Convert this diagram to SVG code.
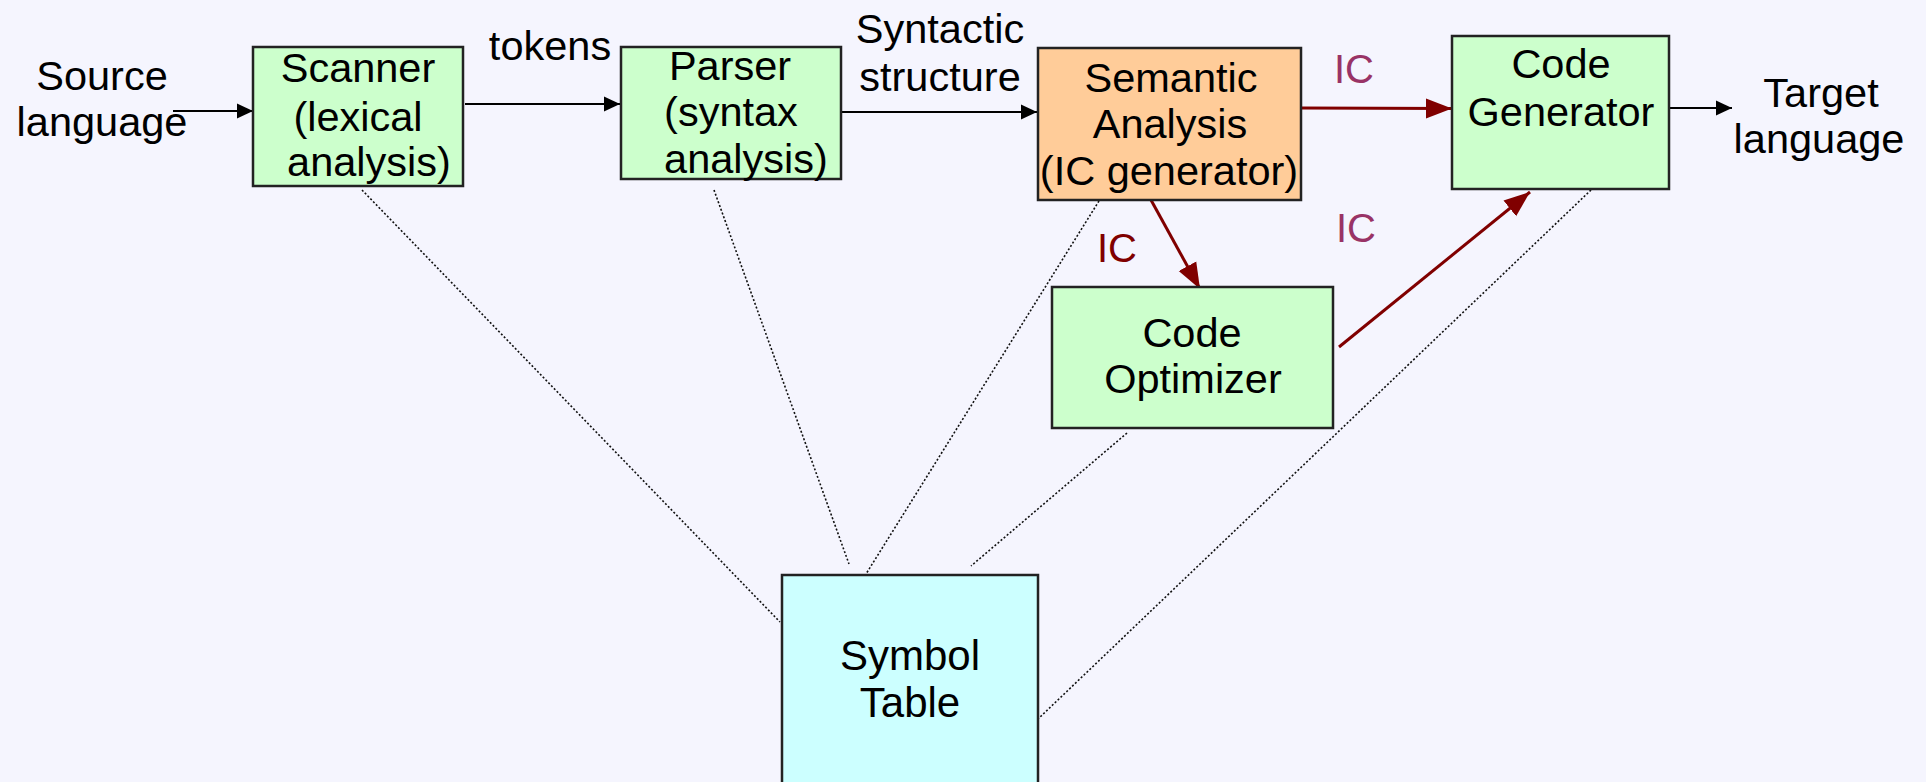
<svg xmlns="http://www.w3.org/2000/svg" width="1926" height="782" viewBox="0 0 1926 782">
<defs>
<marker id="ab" markerUnits="userSpaceOnUse" markerWidth="18" markerHeight="16" refX="16" refY="8" orient="auto"><path d="M0,0.5 L16,8 L0,15.5 z" fill="#000"/></marker>
<marker id="ar" markerUnits="userSpaceOnUse" markerWidth="28" markerHeight="22" refX="26" refY="11" orient="auto"><path d="M0,1 L26,11 L0,21 z" fill="#800000"/></marker>
<style>
text{font-family:"Liberation Sans",Arial,sans-serif;font-size:41.5px;fill:#000;text-anchor:middle}
.box{stroke:#222;stroke-width:2.5}
.g{fill:#ccffcc}
.o{fill:#ffcc99}
.c{fill:#ccffff}
.blk{stroke:#000;stroke-width:2;fill:none}
.red{stroke:#800000;stroke-width:3;fill:none}
.dot{stroke:#111;stroke-width:1.6;stroke-dasharray:2 2;fill:none}
.icp{fill:#993366;font-size:40px}
.icr{fill:#800000;font-size:40px}
</style>
</defs>
<rect width="1926" height="782" fill="#f5f5fe"/>
<g id="connectors">
<line class="dot" x1="362" y1="190" x2="780" y2="622"/>
<line class="dot" x1="714" y1="190" x2="849" y2="564"/>
<line class="dot" x1="1099" y1="201" x2="866" y2="574"/>
<line class="dot" x1="1127" y1="433" x2="971" y2="566"/>
<line class="dot" x1="1591" y1="190" x2="1038" y2="719"/>
<line class="blk" x1="173" y1="111" x2="253" y2="111" marker-end="url(#ab)"/>
<line class="blk" x1="465" y1="104" x2="620" y2="104" marker-end="url(#ab)"/>
<line class="blk" x1="841" y1="112" x2="1037" y2="112" marker-end="url(#ab)"/>
<line class="blk" x1="1669" y1="108" x2="1732" y2="108" marker-end="url(#ab)"/>
<line class="red" x1="1301" y1="108" x2="1452" y2="108.5" marker-end="url(#ar)"/>
<line class="red" x1="1151" y1="200" x2="1200" y2="289" marker-end="url(#ar)"/>
<line class="red" x1="1339" y1="347" x2="1530" y2="192" marker-end="url(#ar)"/>
<text x="550" y="60">tokens</text>
<text x="940" y="43">Syntactic</text>
<text x="940" y="91">structure</text>
<text class="icp" x="1354" y="83">IC</text>
<text class="icr" x="1117" y="262">IC</text>
<text class="icp" x="1356" y="242">IC</text>
</g>
<g id="source">
<text x="102" y="90">Source</text>
<text x="102" y="136">language</text>
</g>
<g id="target">
<text x="1821" y="107">Target</text>
<text x="1819" y="153">language</text>
</g>
<g id="scanner">
<rect class="box g" x="253" y="47" width="210" height="139"/>
<text x="358" y="82">Scanner</text>
<text x="358" y="131">(lexical</text>
<text x="369" y="176">analysis)</text>
</g>
<g id="parser">
<rect class="box g" x="621" y="47" width="220" height="132"/>
<text x="730" y="80">Parser</text>
<text x="731" y="126">(syntax</text>
<text x="746" y="173">analysis)</text>
</g>
<g id="semantic">
<rect class="box o" x="1038" y="48" width="263" height="152"/>
<text x="1171" y="92">Semantic</text>
<text x="1170" y="138">Analysis</text>
<text x="1169" y="185">(IC generator)</text>
</g>
<g id="codegen">
<rect class="box g" x="1452" y="36" width="217" height="153"/>
<text x="1561" y="78">Code</text>
<text x="1561" y="126">Generator</text>
</g>
<g id="optimizer">
<rect class="box g" x="1052" y="287" width="281" height="141"/>
<text x="1192" y="347">Code</text>
<text x="1193" y="393">Optimizer</text>
</g>
<g id="symtab">
<rect class="box c" x="782" y="575" width="256" height="220"/>
<text x="910" y="670" style="font-size:42px">Symbol</text>
<text x="910" y="717" style="font-size:42px">Table</text>
</g>
</svg>
